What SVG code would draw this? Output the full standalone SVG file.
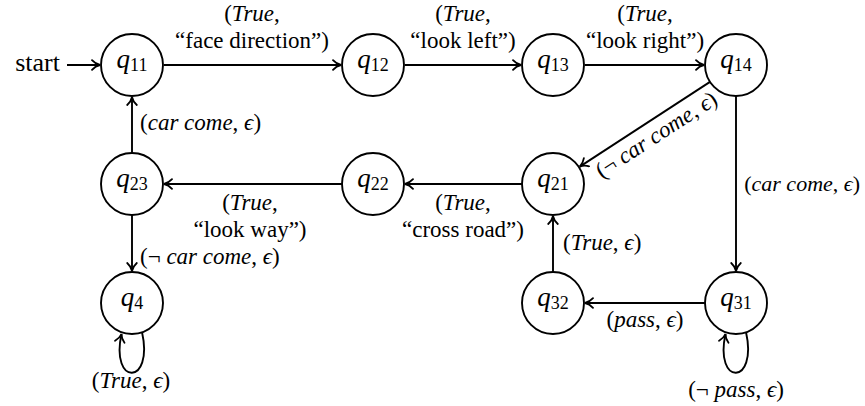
<svg xmlns="http://www.w3.org/2000/svg" width="865" height="406" viewBox="0 0 865 406">
<defs>
<marker id="a" viewBox="-10 -6 12 12" markerWidth="12" markerHeight="12" refX="0" refY="0" orient="auto" markerUnits="userSpaceOnUse">
<path d="M-8,-4.8 C-5.5,-2 -2,-0.4 0,0 C-2,0.4 -5.5,2 -8,4.8" fill="none" stroke="#000" stroke-width="1.8" stroke-linecap="round"/>
</marker>
<style>
text{font-family:"Liberation Serif","Times New Roman",Times,"DejaVu Serif",serif}
.n circle{fill:#fff;stroke:#000;stroke-width:1.9}
.n text{text-anchor:middle}
.q{font-style:italic;font-size:27px}
.s{font-size:18px}
.e path{fill:none;stroke:#000;stroke-width:1.9;marker-end:url(#a)}
.l{font-size:23px}
.m{text-anchor:middle}
.i{font-style:italic}
</style>
</defs>
<rect width="865" height="406" fill="#fff"/>
<g class="e" id="edges">
<path d="M67,65 H100"/>
<path d="M164,65 H341"/>
<path d="M405,65 H521"/>
<path d="M585,65 H704"/>
<path d="M710,81.9 L579.8,166.6"/>
<path d="M736,96 V271"/>
<path d="M522,184 H405"/>
<path d="M342,184 H164"/>
<path d="M132,153 V97"/>
<path d="M132,215 V271"/>
<path d="M553,272 V216"/>
<path d="M705,303 H585"/>
<path d="M142,332 C154,386 110,386 121.5,334"/>
<path d="M746,332 C758,386 714,386 725.5,334"/>
</g>
<g id="labels" class="l">
<text x="60" y="71" text-anchor="end" font-size="26">start</text>
<text class="m" x="252" y="21">(<tspan class="i">True</tspan>,</text>
<text class="m" x="252" y="48">“face direction”)</text>
<text class="m" x="463" y="21">(<tspan class="i">True</tspan>,</text>
<text class="m" x="463" y="48">“look left”)</text>
<text class="m" x="645" y="21">(<tspan class="i">True</tspan>,</text>
<text class="m" x="645" y="48">“look right”)</text>
<text class="m" transform="translate(657,136) rotate(-33)" y="6">(¬ <tspan class="i">car come</tspan>, <tspan class="i">ϵ</tspan>)</text>
<text x="860" y="191" text-anchor="end" font-size="22">(<tspan class="i">car come</tspan>, <tspan class="i">ϵ</tspan>)</text>
<text class="m" x="463" y="210">(<tspan class="i">True</tspan>,</text>
<text class="m" x="463" y="237">“cross road”)</text>
<text class="m" x="250" y="210">(<tspan class="i">True</tspan>,</text>
<text class="m" x="250" y="237">“look way”)</text>
<text x="140" y="130">(<tspan class="i">car come</tspan>, <tspan class="i">ϵ</tspan>)</text>
<text x="140" y="264">(¬ <tspan class="i">car come</tspan>, <tspan class="i">ϵ</tspan>)</text>
<text x="563" y="250">(<tspan class="i">True</tspan>, <tspan class="i">ϵ</tspan>)</text>
<text class="m" x="645" y="327">(<tspan class="i">pass</tspan>, <tspan class="i">ϵ</tspan>)</text>
<text class="m" x="131" y="388">(<tspan class="i">True</tspan>, <tspan class="i">ϵ</tspan>)</text>
<text class="m" x="736" y="397">(¬ <tspan class="i">pass</tspan>, <tspan class="i">ϵ</tspan>)</text>
</g>
<g class="n" id="q11"><circle cx="132" cy="65" r="31"/><text x="132" y="68"><tspan class="q">q</tspan><tspan class="s" dy="3">11</tspan></text></g>
<g class="n" id="q12"><circle cx="373" cy="65" r="31"/><text x="373" y="68"><tspan class="q">q</tspan><tspan class="s" dy="3">12</tspan></text></g>
<g class="n" id="q13"><circle cx="553" cy="65" r="31"/><text x="553" y="68"><tspan class="q">q</tspan><tspan class="s" dy="3">13</tspan></text></g>
<g class="n" id="q14"><circle cx="736" cy="65" r="31"/><text x="736" y="68"><tspan class="q">q</tspan><tspan class="s" dy="3">14</tspan></text></g>
<g class="n" id="q23"><circle cx="132" cy="184" r="31"/><text x="132" y="187"><tspan class="q">q</tspan><tspan class="s" dy="3">23</tspan></text></g>
<g class="n" id="q22"><circle cx="373" cy="184" r="31"/><text x="373" y="187"><tspan class="q">q</tspan><tspan class="s" dy="3">22</tspan></text></g>
<g class="n" id="q21"><circle cx="553" cy="184" r="31"/><text x="553" y="187"><tspan class="q">q</tspan><tspan class="s" dy="3">21</tspan></text></g>
<g class="n" id="q4"><circle cx="132" cy="303" r="31"/><text x="132" y="306"><tspan class="q">q</tspan><tspan class="s" dy="3">4</tspan></text></g>
<g class="n" id="q32"><circle cx="553" cy="303" r="31"/><text x="553" y="306"><tspan class="q">q</tspan><tspan class="s" dy="3">32</tspan></text></g>
<g class="n" id="q31"><circle cx="736" cy="303" r="31"/><text x="736" y="306"><tspan class="q">q</tspan><tspan class="s" dy="3">31</tspan></text></g>
</svg>
